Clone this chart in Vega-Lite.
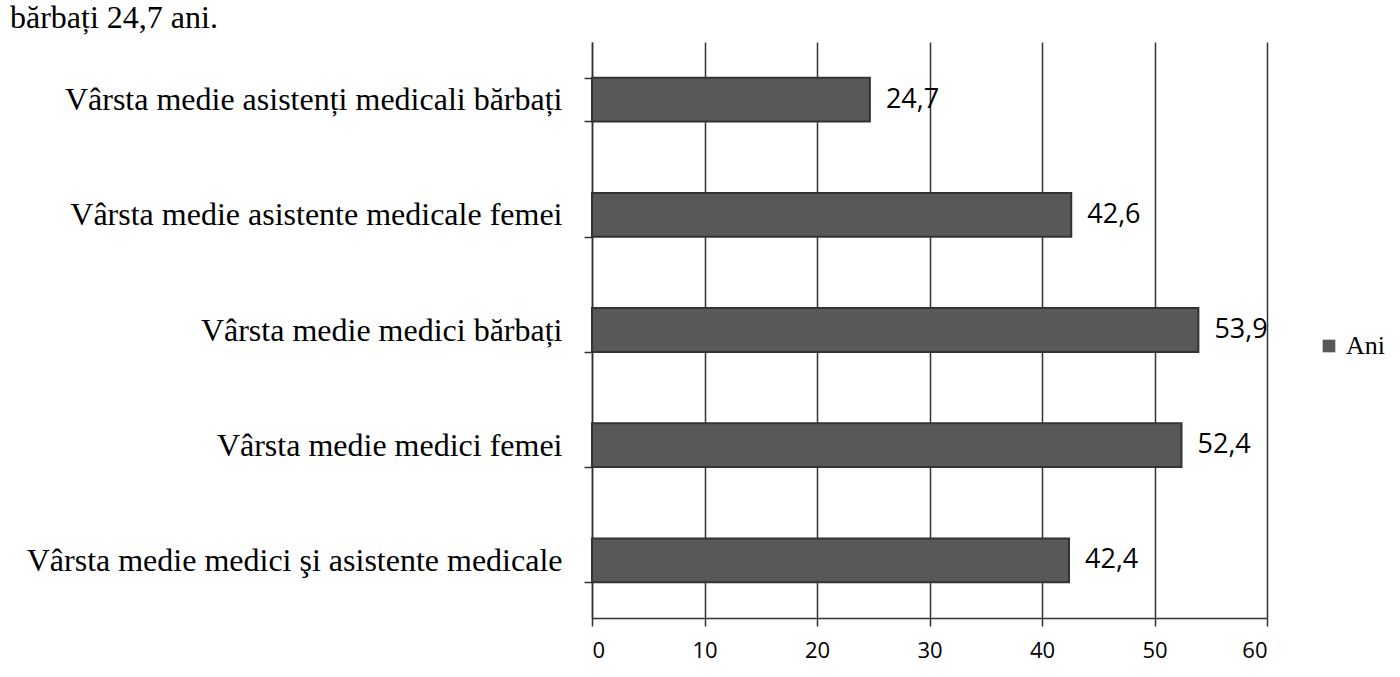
{
  "$schema": "https://vega.github.io/schema/vega-lite/v6.json",
  "width": 675,
  "height": 576,
  "autosize": {"type": "none"},
  "padding": {"left": 592, "top": 42, "right": 133, "bottom": 59},
  "background": "white",
  "title": {
    "text": "bărbați 24,7 ani.",
    "anchor": "start",
    "frame": "group",
    "font": "Liberation Serif",
    "fontSize": 32,
    "fontWeight": "normal",
    "color": "#000000",
    "baseline": "top",
    "dx": -582,
    "dy": 21,
    "offset": 12
  },
  "data": {
    "values": [
      {"cat": "Vârsta medie asistenți medicali bărbați", "value": 24.7, "label": "24,7", "serie": "Ani", "ord": 1},
      {"cat": "Vârsta medie asistente medicale femei", "value": 42.6, "label": "42,6", "serie": "Ani", "ord": 2},
      {"cat": "Vârsta medie medici bărbați", "value": 53.9, "label": "53,9", "serie": "Ani", "ord": 3},
      {"cat": "Vârsta medie medici femei ", "value": 52.4, "label": "52,4", "serie": "Ani", "ord": 4},
      {"cat": "Vârsta medie medici şi asistente medicale", "value": 42.4, "label": "42,4", "serie": "Ani", "ord": 5}
    ]
  },
  "encoding": {
    "y": {
      "field": "cat",
      "type": "nominal",
      "sort": {"field": "ord", "op": "min", "order": "ascending"},
      "scale": {"paddingInner": 0.62, "paddingOuter": 0.31},
      "axis": {
        "title": null,
        "tickBand": "extent",
        "tickSize": 8,
        "tickColor": "#333333",
        "tickWidth": 1.5,
        "domainColor": "#333333",
        "domainWidth": 1.5,
        "labelFont": "Liberation Serif",
        "labelFontSize": 32,
        "labelColor": "#000000",
        "labelPadding": 22,
        "labelLimit": 700,
        "grid": false
      }
    },
    "x": {
      "field": "value",
      "type": "quantitative",
      "scale": {"domain": [0, 60], "nice": false},
      "axis": {
        "title": null,
        "values": [0, 10, 20, 30, 40, 50, 60],
        "tickSize": 8,
        "tickColor": "#333333",
        "tickWidth": 1.5,
        "domainColor": "#333333",
        "domainWidth": 1.5,
        "grid": true,
        "gridColor": "#333333",
        "gridWidth": 1.5,
        "gridOpacity": 1,
        "labelFont": "Open Sans",
        "labelFontSize": 22,
        "labelColor": "#000000",
        "labelPadding": 14
      }
    }
  },
  "layer": [
    {
      "mark": {"type": "bar", "stroke": "#333333", "strokeWidth": 2},
      "encoding": {
        "color": {
          "field": "serie",
          "type": "nominal",
          "scale": {"domain": ["Ani"], "range": ["#585858"]},
          "legend": {
            "title": null,
            "orient": "none",
            "legendX": 724,
            "legendY": 291,
            "symbolType": "square",
            "symbolSize": 160,
            "symbolStrokeWidth": 0,
            "labelFont": "Liberation Serif",
            "labelFontSize": 26,
            "labelColor": "#000000",
            "labelOffset": 4
          }
        }
      }
    },
    {
      "mark": {
        "type": "text",
        "align": "left",
        "baseline": "middle",
        "dx": 16,
        "font": "Open Sans",
        "fontSize": 27,
        "color": "#000000"
      },
      "encoding": {"text": {"field": "label"}}
    }
  ],
  "config": {"view": {"stroke": null}}
}
